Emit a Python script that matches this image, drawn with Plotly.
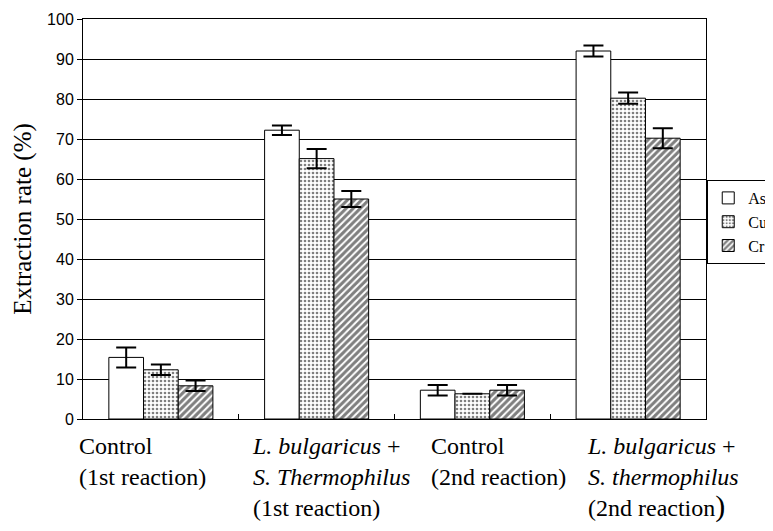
import plotly.graph_objects as go

categories = ["c1", "c2", "c3", "c4"]
category_labels = [
    "Control<br>(1st reaction)",
    "<i>L. bulgaricus</i> +<br><i>S. Thermophilus</i><br>(1st reaction)",
    "Control<br>(2nd reaction)",
    "<i>L. bulgaricus</i> +<br><i>S. thermophilus</i><br>(2nd reaction<span style='font-size:30px'>)</span>",
]
label_shifts = [-84, -67, -43, -43]

as_values = [15.4, 72.2, 7.2, 92.0]
as_errors = [2.5, 1.2, 1.3, 1.4]
cu_values = [12.3, 65.1, 6.3, 80.2]
cu_errors = [1.3, 2.4, None, 1.4]
cr_values = [8.3, 55.0, 7.2, 70.2]
cr_errors = [1.3, 2.0, 1.3, 2.5]

y_ticks = [0, 10, 20, 30, 40, 50, 60, 70, 80, 90, 100]

serif = "Liberation Serif"
sans = "Liberation Sans"

def err(vals):
    return dict(type="data", array=vals, visible=True, color="black",
                thickness=2, width=10)

fig = go.Figure()
fig.add_trace(go.Bar(
    name="As", x=categories, y=as_values, error_y=err(as_errors),
    marker=dict(color="white", line=dict(color="black", width=1)),
))
fig.add_trace(go.Bar(
    name="Cu", x=categories, y=cu_values, error_y=err(cu_errors),
    marker=dict(color="white", line=dict(color="black", width=1),
                pattern=dict(shape=".", fgcolor="black", bgcolor="white",
                             size=4, solidity=0.35)),
))
fig.add_trace(go.Bar(
    name="Cr", x=categories, y=cr_values, error_y=err(cr_errors),
    marker=dict(color="white", line=dict(color="black", width=1),
                pattern=dict(shape="/", fgcolor="black", bgcolor="white",
                             size=5, solidity=0.6)),
))

for cat, lab, sh in zip(categories, category_labels, label_shifts):
    fig.add_annotation(
        x=cat, xref="x", y=0, yref="paper", yanchor="top", xanchor="left",
        xshift=sh, yshift=-12, text=lab, showarrow=False, align="left",
        font=dict(family=serif, size=24, color="black"),
    )

# the page body has an 8px default margin, so the figure is sized to fit the window
fig.update_layout(
    width=765, height=515,
    margin=dict(l=75, r=67, t=11, b=104, autoexpand=False),
    paper_bgcolor="white", plot_bgcolor="white",
    barmode="group", bargap=0.332, bargroupgap=0,
    showlegend=True,
    legend=dict(
        x=1.002, xanchor="left", y=0.5975, yanchor="top",
        bordercolor="black", borderwidth=1, bgcolor="white",
        font=dict(family=serif, size=16, color="black"),
        tracegroupgap=0, itemwidth=30,
    ),
    xaxis=dict(
        type="category", showticklabels=False, ticks="inside",
        tickson="boundaries", ticklen=5, tickcolor="black",
        showline=True, linecolor="black", linewidth=1, mirror=True,
        showgrid=False, range=[-0.5, 3.5], automargin=False,
    ),
    yaxis=dict(
        range=[0, 100], tickvals=y_ticks, ticks="outside", ticklen=5,
        tickcolor="black", showline=True, linecolor="black", linewidth=1,
        mirror=True, showgrid=True, gridcolor="black", gridwidth=1,
        zeroline=False, automargin=False,
        tickfont=dict(family=sans, size=16, color="black"),
        title=dict(text="Extraction rate (%)", standoff=8,
                   font=dict(family=serif, size=25, color="black")),
    ),
)

fig.write_html("out.html")
